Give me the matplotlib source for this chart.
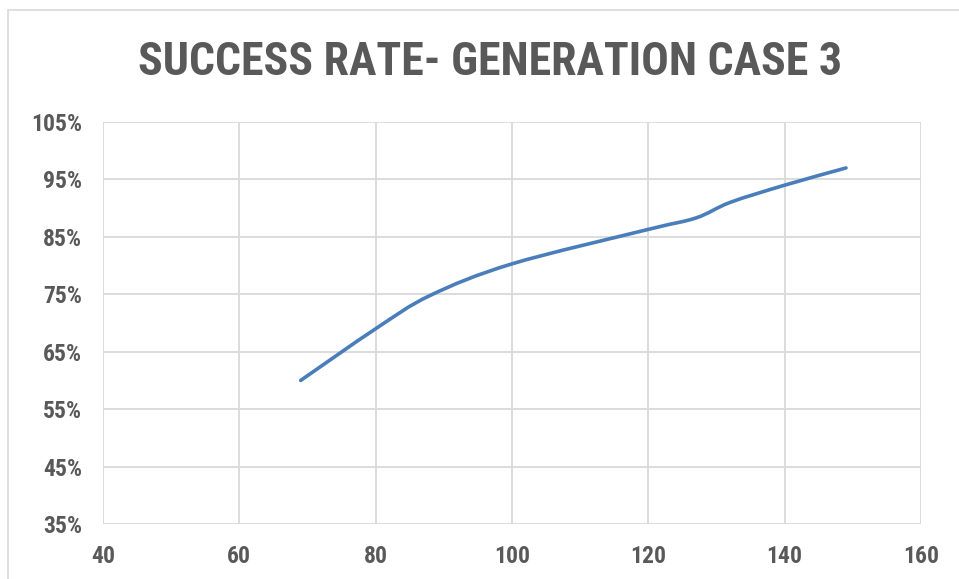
import numpy as np
import matplotlib
matplotlib.use("Agg")
import matplotlib.pyplot as plt
from matplotlib.path import Path
from matplotlib.patches import PathPatch, Rectangle
from matplotlib import font_manager

x_vals = [69, 80, 88, 100, 120, 127, 132, 140, 149]
y_vals = [60.0, 69.0, 74.8, 80.3, 86.3, 88.3, 91.0, 94.0, 97.0]
x_ticks = [40, 60, 80, 100, 120, 140, 160]
y_ticks = [35, 45, 55, 65, 75, 85, 95, 105]
title = "SUCCESS RATE- GENERATION CASE 3"

names = {f.name for f in font_manager.fontManager.ttflist}
fam = "DejaVu Sans"
for cand in ["Liberation Sans Narrow", "Roboto Condensed", "Open Sans Condensed", "Lato"]:
    if cand in names:
        fam = cand
        break
plt.rcParams['font.family'] = [fam, 'DejaVu Sans']

fig = plt.figure(figsize=(9.59, 5.79), dpi=100)
W, H = 959, 579
fig.patches.append(Rectangle((8 / W, -0.1), 2.0, 1 - 10 / H + 0.1, transform=fig.transFigure,
                             fill=False, edgecolor='#D9D9D9', linewidth=1.2))

ax = fig.add_axes([103 / W, 1 - 524 / H, (921 - 103) / W, (524 - 122) / H])
ax.set_xlim(40, 160)
ax.set_ylim(35, 105)
ax.set_xticks(x_ticks)
ax.set_yticks(y_ticks)
ax.set_yticklabels([f"{v}%" for v in y_ticks])
ax.grid(True, color='#D9D9D9', linewidth=1.3)
ax.set_axisbelow(True)
for s in ax.spines.values():
    s.set_visible(False)
ax.tick_params(length=0, labelsize=17, labelcolor='#595959')
ax.tick_params(axis='y', pad=15)
ax.tick_params(axis='x', pad=15)
for lab in ax.get_xticklabels() + ax.get_yticklabels():
    lab.set_fontweight('bold')

px = np.array(x_vals, float)
py = np.array(y_vals, float)
sx, sy = 1 / 120.0, 1 / 70.0
P = np.column_stack([px * sx, py * sy])
verts = [P[0]]
codes = [Path.MOVETO]
n = len(P)
for i in range(n - 1):
    p0 = P[i - 1] if i > 0 else P[i]
    p1 = P[i]
    p2 = P[i + 1]
    p3 = P[i + 2] if i + 2 < n else P[i + 1]
    c1 = p1 + (p2 - p0) / 6
    c2 = p2 - (p3 - p1) / 6
    verts += [c1, c2, p2]
    codes += [Path.CURVE4] * 3
verts = np.array(verts)
verts[:, 0] /= sx
verts[:, 1] /= sy
ax.add_patch(PathPatch(Path(verts, codes), fill=False, edgecolor='#4A7EBB',
                       linewidth=2.6, capstyle='round'))

fig.text(490 / W, 1 - 62 / H, title, ha='center', va='center', fontsize=33,
         fontweight='bold', color='#595959')

fig.savefig("out.png", dpi=100)
